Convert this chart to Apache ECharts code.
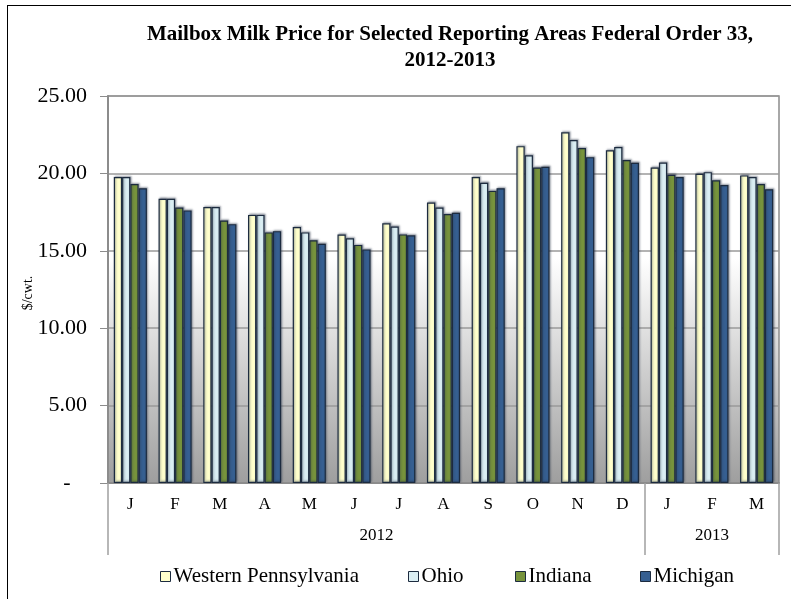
<!DOCTYPE html>
<html>
  <head>
    <meta charset="utf-8" />
    <title>Mailbox Milk Price</title>
    <style>
      html, body { margin: 0; padding: 0; background: #fff; }
      #frame { position: absolute; left: 7px; top: 5px; width: 790px; height: 600px; border-left: 1.5px solid #000; border-top: 1.5px solid #000; }
      #chart { position: absolute; left: 0; top: 0; width: 791px; height: 599px; }
    </style>
  </head>
  <body>
    <div id="frame"></div>
    <div id="chart"></div>
    <script type="text/javascript" src="https://cdn.jsdelivr.net/npm/echarts@6/dist/echarts.min.js"></script>
    <script type="text/javascript">
      var months = ["J", "F", "M", "A", "M", "J", "J", "A", "S", "O", "N", "D", "J", "F", "M"];
      var years = ["2012", "2013"];
      var seriesNames = ["Western Pennsylvania", "Ohio", "Indiana", "Michigan"];

      var westernPa = [19.76, 18.36, 17.83, 17.32, 16.53, 16.05, 16.78, 18.12, 19.76, 21.76, 22.66, 21.49, 20.38, 19.98, 19.87];
      var ohio = [19.76, 18.36, 17.83, 17.32, 16.19, 15.81, 16.57, 17.79, 19.4, 21.17, 22.15, 21.7, 20.7, 20.08, 19.76];
      var indiana = [19.32, 17.79, 16.96, 16.19, 15.68, 15.38, 16.06, 17.38, 18.87, 20.38, 21.64, 20.87, 19.91, 19.55, 19.32];
      var michigan = [19.04, 17.61, 16.72, 16.27, 15.45, 15.09, 16.0, 17.45, 19.04, 20.43, 21.05, 20.68, 19.76, 19.25, 18.98];

      var colors = ["#FFFFCC", "#DAEEF3", "#77933C", "#365F91"];
      var legendLeft = [160, 408, 515, 640];
      var serif = "Liberation Serif";

      var chart = echarts.init(document.getElementById("chart"));

      function makeBar(name, data, idx) {
        return {
          name: name,
          type: "bar",
          data: data,
          barGap: "0%",
          barCategoryGap: "26%",
          itemStyle: {
            color: colors[idx],
            borderColor: "#1c2b3f",
            borderWidth: 1.2,
            shadowColor: "rgba(40,50,70,0.45)",
            shadowBlur: 2,
            shadowOffsetX: 1,
            shadowOffsetY: -1,
          },
        };
      }

      // one legend per item so each can sit where the original puts it
      var legends = seriesNames.map(function (name, i) {
        return {
          data: [name],
          top: 566,
          left: legendLeft[i],
          padding: 0,
          icon: "rect",
          itemWidth: 10,
          itemHeight: 10,
          itemStyle: { borderColor: "#1c2b3f", borderWidth: 1 },
          textStyle: { fontFamily: serif, fontSize: 21, color: "#000", padding: [2, 0, 0, -2] },
        };
      });

      var option = {
        animation: false,
        title: {
          text: "Mailbox Milk Price for Selected Reporting Areas Federal Order 33,\n2012-2013",
          left: 445,
          textAlign: "center",
          top: 17,
          textStyle: {
            fontFamily: serif,
            fontWeight: "bold",
            fontSize: 21,
            lineHeight: 26,
            color: "#000",
          },
        },
        legend: legends,
        grid: {
          left: 108,
          right: 12,
          top: 96,
          bottom: 116,
          outerBoundsMode: "none",
          containLabel: false,
          show: true,
          borderColor: "#8c8c8c",
          borderWidth: 1.5,
          backgroundColor: {
            type: "linear",
            x: 0, y: 0, x2: 0, y2: 1,
            colorStops: [
              { offset: 0, color: "#ffffff" },
              { offset: 0.42, color: "#ffffff" },
              { offset: 1, color: "#9e9e9e" },
            ],
          },
        },
        xAxis: [
          {
            type: "category",
            data: months,
            axisLine: { lineStyle: { color: "#8c8c8c", width: 2 } },
            axisTick: { show: false },
            axisLabel: { fontFamily: serif, fontSize: 17, color: "#000", margin: 13 },
          },
          {
            type: "value",
            min: 0,
            max: 15,
            position: "bottom",
            axisLine: { show: false },
            splitLine: { show: false },
            axisTick: {
              show: true,
              customValues: [0, 12, 15],
              length: 72,
              lineStyle: { color: "#a0a0a0", width: 1.5 },
            },
            axisLabel: {
              customValues: [6, 13.5],
              fontFamily: serif,
              fontSize: 17,
              color: "#000",
              margin: 44,
              formatter: function (v) {
                return v < 12 ? years[0] : years[1];
              },
            },
          },
        ],
        yAxis: {
          type: "value",
          min: 0,
          max: 25,
          interval: 5,
          name: "$/cwt.",
          nameLocation: "middle",
          nameRotate: 90,
          nameGap: 73,
          nameMoveOverlap: false,
          nameTextStyle: { fontFamily: serif, fontSize: 14, color: "#000", padding: [0, 7, 0, 0] },
          axisLine: { show: true, lineStyle: { color: "#8c8c8c", width: 2 } },
          axisTick: { show: true, length: 8, lineStyle: { color: "#8c8c8c" } },
          axisLabel: {
            fontFamily: serif,
            fontSize: 22,
            color: "#000",
            margin: 21,
            formatter: function (v) {
              return v === 0 ? "-   " : v.toFixed(2);
            },
          },
          splitLine: { lineStyle: { color: "#9a9a9a", width: 1.5 } },
        },
        series: [
          makeBar(seriesNames[0], westernPa, 0),
          makeBar(seriesNames[1], ohio, 1),
          makeBar(seriesNames[2], indiana, 2),
          makeBar(seriesNames[3], michigan, 3),
        ],
      };

      chart.setOption(option);
    </script>
  </body>
</html>
